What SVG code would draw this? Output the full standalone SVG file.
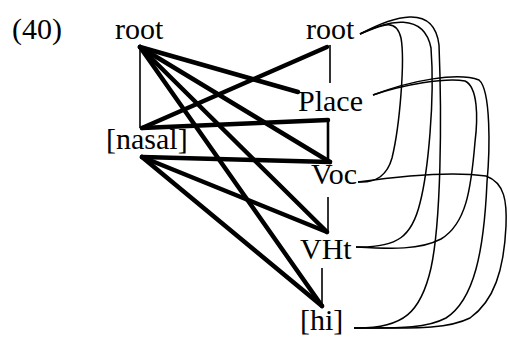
<svg xmlns="http://www.w3.org/2000/svg" width="508" height="337" viewBox="0 0 508 337">
  <style>
    text { font-family: "Liberation Serif", "Times New Roman", serif; font-size: 30px; fill: #000; }
    .thick { stroke: #000; stroke-width: 4.5; fill: none; stroke-linecap: round; }
    .thin { stroke: #000; stroke-width: 1.6; fill: none; }
    .assoc { stroke: #000; stroke-width: 1.5; fill: none; }
  </style>
  <rect width="508" height="337" fill="#fff"/>

  <text id="example-number" x="12" y="39">(40)</text>

  <g id="connectors">
    <!-- tree branches -->
    <line class="thin" x1="140" y1="47" x2="140" y2="128"/>
    <line class="thin" x1="330" y1="45" x2="330" y2="83"/>
    <line class="thin" x1="328" y1="120" x2="328" y2="162" style="stroke-width:2.6"/>
    <line class="thin" x1="328" y1="197" x2="328" y2="233"/>
    <line class="thin" x1="322" y1="268" x2="322" y2="305"/>

    <!-- links from the left root -->
    <line class="thick" x1="140" y1="47" x2="298" y2="92"/>
    <line class="thick" x1="140" y1="47" x2="330" y2="162"/>
    <line class="thick" x1="140" y1="47" x2="327" y2="232"/>
    <line class="thick" x1="140" y1="47" x2="322" y2="306"/>

    <!-- links from the top of [nasal] -->
    <line class="thick" x1="142" y1="128" x2="327" y2="47"/>
    <line class="thick" x1="142" y1="128" x2="328" y2="120"/>

    <!-- links from the bottom of [nasal] -->
    <line class="thick" x1="142" y1="157" x2="330" y2="162"/>
    <line class="thick" x1="142" y1="157" x2="327" y2="232"/>
    <line class="thick" x1="142" y1="157" x2="322" y2="306"/>

    <!-- curved association lines on the right -->
    <path class="assoc" d="M360,34 C382,25 396,17 401,38 C405,60 400,125 392,158 C387,176 376,183 358,182"/>
    <path class="assoc" d="M360,34 C388,20 424,12 431,48 C435,100 428,172 420,203 C412,236 398,248 356,247"/>
    <path class="assoc" d="M360,34 C392,17 434,2 439,45 C442,120 441,222 431,268 C421,312 404,329 354,328"/>
    <path class="assoc" d="M373,95 C402,85 446,77 465,81 C478,87 478,118 475,142 C471,190 466,224 441,239 C420,250 392,249 356,247"/>
    <path class="assoc" d="M373,95 C412,80 458,72 479,80 C491,90 490,150 487,182 C484,252 474,300 446,318 C425,329 398,328 354,328"/>
    <path class="assoc" d="M358,182 C400,176 452,171 486,176 C505,183 507,202 506,226 C504,270 494,301 470,318 C446,330 410,328 354,328"/>
  </g>

  <g id="node-root-left"><text x="115" y="39">root</text></g>
  <g id="node-nasal"><text x="106" y="149">[nasal]</text></g>
  <g id="node-root-right"><text x="306" y="39">root</text></g>
  <g id="node-place"><text x="298" y="111">Place</text></g>
  <g id="node-voc"><text x="311" y="184">Voc</text></g>
  <g id="node-vht"><text x="300" y="259">VHt</text></g>
  <g id="node-hi"><text x="300" y="330">[hi]</text></g>
</svg>
